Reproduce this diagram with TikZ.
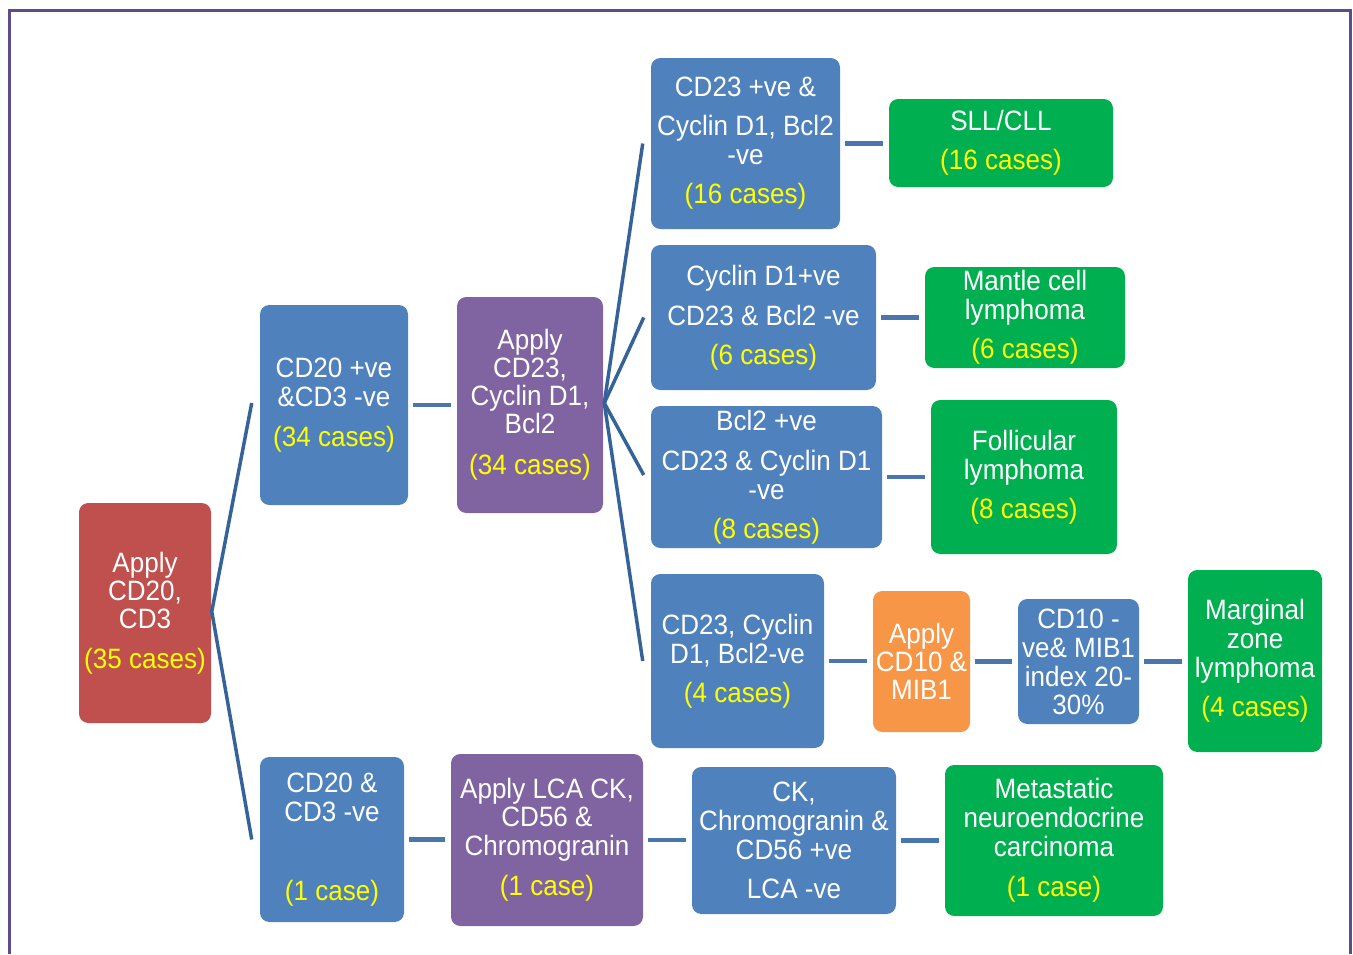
\documentclass[tikz,border=0pt]{standalone}
\usepackage{fontspec}
\setmainfont{Liberation Sans}[FakeStretch=0.93]
\usetikzlibrary{calc}
\definecolor{bblue}{HTML}{4F81BD}
\definecolor{bred}{HTML}{C0504D}
\definecolor{bpurple}{HTML}{8064A2}
\definecolor{bgreen}{HTML}{00B050}
\definecolor{borange}{HTML}{F79646}
\definecolor{yl}{HTML}{FFFF00}
\definecolor{diagc}{HTML}{356299}
\definecolor{horc}{HTML}{4A75AD}
\definecolor{framec}{HTML}{5F4A8B}
\newcommand\cs[1]{\textcolor{yl}{#1}}
\newcommand\bx[7]{\node[box,fill=#6,minimum width={(#4-#2)*0.75pt},minimum height={(#5-#3)*0.75pt}] (#1) at ({(#2+#4)/2},{(#3+#5)/2}) {#7};}
\tikzset{
  box/.style={rounded corners=7pt, inner sep=0pt, align=center, text=white,
    font=\fontsize{21}{21.75}\selectfont},
  diag/.style={draw=diagc, line width=2.6pt},
  hl/.style={draw=horc, line width=3.6pt, shorten <=3.5pt, shorten >=4.5pt},
  frame/.style={draw=framec, line width=2.2pt}
}
\begin{document}
\begin{tikzpicture}[x=0.75pt,y=-0.75pt]
\useasboundingbox (0,0) rectangle (1353,954);
\draw[frame] (9.5,954) -- (9.5,10.5) -- (1350.5,10.5) -- (1350.5,954);

\bx{root}{79}{503}{211}{723}{bred}{Apply\\[-0.75pt]CD20,\\[-0.75pt]CD3\\[8pt]\cs{(35 cases)}}
\bx{n1}{260}{305}{408}{505}{bblue}{CD20 +ve\\\&CD3 -ve\\[8pt]\cs{(34 cases)}}
\bx{n2}{260}{757}{404}{922}{bblue}{CD20 \&\\CD3 -ve\\[37.5pt]\cs{(1 case)}}
\bx{p1}{457}{297}{603}{513}{bpurple}{Apply\\[-0.75pt]CD23,\\[-0.75pt]Cyclin D1,\\[-0.75pt]Bcl2\\[9pt]\cs{(34 cases)}}
\bx{p2}{451}{754}{643}{926}{bpurple}{Apply LCA CK,\\[-0.75pt]CD56 \&\\Chromogranin\\[8pt]\cs{(1 case)}}
\bx{b1}{651}{58}{840}{229}{bblue}{CD23 +ve \&\\[7.5pt]Cyclin D1, Bcl2\\-ve\\[7.5pt]\cs{(16 cases)}}
\bx{b2}{651}{245}{876}{390}{bblue}{Cyclin D1+ve\\[8pt]CD23 \& Bcl2 -ve\\[7.5pt]\cs{(6 cases)}}
\bx{b3}{651}{406}{882}{548}{bblue}{Bcl2 +ve\\[8pt]CD23 \& Cyclin D1\\-ve\\[7.5pt]\cs{(8 cases)}}
\bx{b4}{651}{574}{824}{748}{bblue}{CD23, Cyclin\\D1, Bcl2-ve\\[7.5pt]\cs{(4 cases)}}
\bx{b5}{692}{767}{896}{914}{bblue}{CK,\\Chromogranin \&\\CD56 +ve\\[7.5pt]LCA -ve}
\bx{g1}{889}{99}{1113}{187}{bgreen}{SLL/CLL\\[7.5pt]\cs{(16 cases)}}
\bx{g2}{925}{267}{1125}{368}{bgreen}{Mantle cell\\lymphoma\\[7.5pt]\cs{(6 cases)}}
\bx{g3}{931}{400}{1117}{554}{bgreen}{Follicular\\lymphoma\\[7.5pt]\cs{(8 cases)}}
\bx{o1}{873}{591}{970}{732}{borange}{Apply\\[-0.75pt]CD10 \&\\[-0.75pt]MIB1}
\bx{b6}{1018}{599}{1139}{724}{bblue}{CD10 -\\ve\& MIB1\\index 20-\\[-0.75pt]30\%}
\bx{g4}{1188}{570}{1322}{752}{bgreen}{Marginal\\zone\\lymphoma\\[7.5pt]\cs{(4 cases)}}
\bx{g5}{945}{765}{1163}{916}{bgreen}{Metastatic\\neuroendocrine\\carcinoma\\[8pt]\cs{(1 case)}}

% free ends of the fan connectors
\coordinate (e1) at ($(n1.west)+(-8,-2)$);
\coordinate (e2) at ($(n2.west)+(-8,0)$);
\coordinate (f1) at ($(b1.west)+(-8,0)$);
\coordinate (f2) at ($(b2.west)+(-7,0)$);
\coordinate (f3) at ($(b3.west)+(-7,-2)$);
\coordinate (f4) at ($(b4.west)+(-8,0)$);
\coordinate (rs) at ($(root.east)+(0.5,-1.5)$);
\coordinate (ps) at ($(p1.east)+(1,-2)$);

\draw[diag] (e1) -- (rs) -- (e2);
\draw[diag] (ps) -- (f1);
\draw[diag] (ps) -- (f2);
\draw[diag] (ps) -- (f3);
\draw[diag] (ps) -- (f4);

\draw[hl] (n1.east) -- (n1.east -| p1.west);
\draw[hl] (b1.east) -- (b1.east -| g1.west);
\draw[hl] (b2.east) -- (b2.east -| g2.west);
\draw[hl] (b3.east) -- (b3.east -| g3.west);
\draw[hl] (b4.east) -- (b4.east -| o1.west);
\draw[hl] (o1.east) -- (o1.east -| b6.west);
\draw[hl] (b6.east) -- (b6.east -| g4.west);
\draw[hl] (n2.east) -- (n2.east -| p2.west);
\draw[hl] (p2.east) -- (p2.east -| b5.west);
\draw[hl] (b5.east) -- (b5.east -| g5.west);
\end{tikzpicture}
\end{document}
